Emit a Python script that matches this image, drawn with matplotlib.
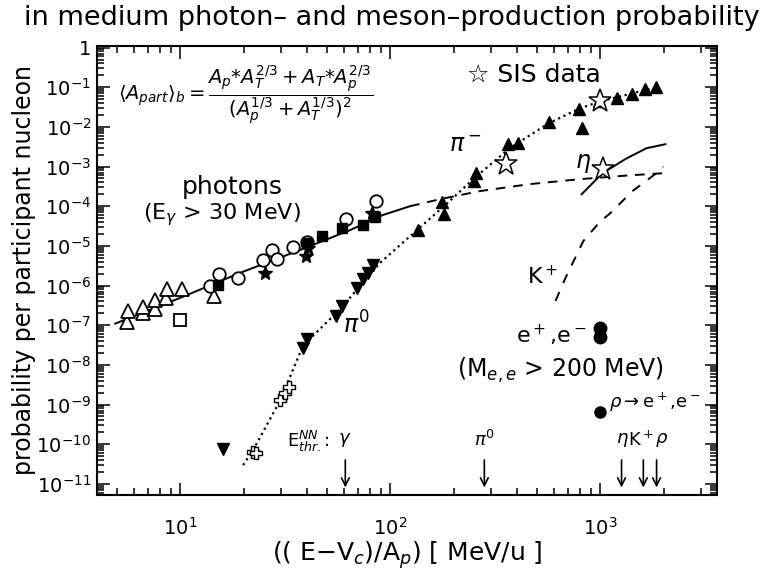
import matplotlib
matplotlib.use("Agg")
import matplotlib.pyplot as plt
from matplotlib.ticker import FixedLocator, FixedFormatter, LogLocator, NullFormatter

# photon data (E_gamma > 30 MeV)
gam_tri_x = [5.6, 5.66, 6.67, 6.67, 7.6, 7.6, 8.58, 8.67, 10.2, 14.5]
gam_tri_y = [1.23e-7, 2.33e-7, 2.07e-7, 2.93e-7, 2.61e-7, 4.4e-7, 4.9e-7, 8.3e-7, 8.3e-7, 5.5e-7]
gam_circ_x = [13.9, 15.3, 18.9, 24.8, 27.3, 28.9, 34.4, 40.1, 61.5, 85.3]
gam_circ_y = [9.9e-7, 2.0e-6, 1.58e-6, 4.5e-6, 7.9e-6, 4.7e-6, 9.4e-6, 1.26e-5, 4.8e-5, 1.35e-4]
gam_sq_x = [15.1, 40.1, 47.3, 58.9, 74.0, 84.3]
gam_sq_y = [1.05e-6, 1.19e-5, 1.78e-5, 2.8e-5, 3.4e-5, 5.4e-5]
gam_osq_x = [10.0]
gam_osq_y = [1.38e-7]
gam_star_x = [25.3, 39.7, 40.6, 81.6]
gam_star_y = [2.1e-6, 5.6e-6, 8.9e-6, 6.8e-5]

# photon model curve (solid, then dashed)
gam_fit_x = [4.9, 10, 19.3, 37.2, 64.3, 92, 124]
gam_fit_y = [1.1e-7, 4.9e-7, 2.1e-6, 7.9e-6, 2.5e-5, 6.0e-5, 1.0e-4]
gam_ext_x = [124, 172, 266, 460, 794, 1374, 1990]
gam_ext_y = [1.0e-4, 1.5e-4, 2.4e-4, 3.6e-4, 4.8e-4, 6.0e-4, 6.8e-4]

# pions
pim_x = [136, 180, 177, 249, 255, 361, 403, 566, 787, 813, 989, 1205, 1420, 1636, 1846]
pim_y = [2.5e-5, 6.4e-5, 1.28e-4, 4.3e-4, 6.8e-4, 3.66e-3, 3.9e-3, 1.3e-2, 2.77e-2, 9.2e-3,
         4.4e-2, 5.5e-2, 6.6e-2, 8.8e-2, 9.9e-2]
pi0_x = [16.0, 38.4, 40.1, 55.1, 58.9, 69.3, 74.0, 78.1, 82.6]
pi0_y = [7.5e-11, 2.7e-8, 4.4e-8, 1.74e-7, 3.1e-7, 8.8e-7, 1.48e-6, 2.1e-6, 3.3e-6]
pi0c_x = [22.2, 22.9, 29.9, 31.5, 33.0]
pi0c_y = [6.3e-11, 6.1e-11, 1.28e-9, 2.0e-9, 2.7e-9]
pion_fit_x = [19.9, 22.2, 29.9, 38.4, 57.5, 89.1, 136, 180, 251, 370, 566, 794, 1000, 1846]
pion_fit_y = [2.97e-11, 7.1e-11, 1.28e-9, 3.1e-8, 2.5e-7, 3.7e-6, 2.7e-5, 1.0e-4, 5.1e-4,
              2.9e-3, 1.23e-2, 2.9e-2, 4.4e-2, 1.0e-1]

# SIS data
sis_x = [354, 1000, 1023]
sis_y = [1.15e-3, 4.6e-2, 8.6e-4]

# eta and K+
eta_x = [813, 1023, 1330, 1656, 2037]
eta_y = [2.0e-4, 6.8e-4, 1.6e-3, 2.9e-3, 3.66e-3]
kp_x = [611, 682, 830, 1000, 1104, 1420, 1846, 1990]
kp_y = [4.1e-7, 1.57e-6, 1.34e-5, 4.2e-5, 6.4e-5, 2.4e-4, 6.8e-4, 1.0e-3]

# dileptons
ee_x = [1000, 1000]
ee_y = [8.7e-8, 4.9e-8]
rho_x = [995]
rho_y = [6.3e-10]

# NN thresholds
thr_x = [61, 280, 1260, 1600, 1850]

ytick_vals = [10.0 ** (-k) for k in range(0, 12)]
ytick_labels = ['1'] + [r'$10^{-%d}$' % k for k in range(1, 12)]

fig = plt.figure(figsize=(7.68, 5.74), dpi=100)
ax = fig.add_axes([0.126, 0.138, 0.808, 0.782])
ax.set_xscale('log')
ax.set_yscale('log')
ax.set_xlim(4, 3600)
ax.set_ylim(5.3e-12, 1.1)

# curves
ax.plot(gam_fit_x, gam_fit_y, 'k-', lw=1.4)
ax.plot(gam_ext_x, gam_ext_y, 'k--', lw=1.4, dashes=(5, 4))
ax.plot(pion_fit_x, pion_fit_y, 'k:', lw=1.6)
ax.plot(eta_x, eta_y, 'k-', lw=1.4)
ax.plot(kp_x, kp_y, 'k--', lw=1.4, dashes=(5, 5))

# markers
ax.plot(gam_tri_x, gam_tri_y, '^', mfc='white', mec='k', mew=1.3, ms=10, ls='none')
ax.plot(gam_circ_x, gam_circ_y, 'o', mfc='white', mec='k', mew=1.3, ms=9, ls='none')
ax.plot(gam_sq_x, gam_sq_y, 's', color='k', ms=7.5, ls='none')
ax.plot(gam_osq_x, gam_osq_y, 's', mfc='white', mec='k', mew=1.3, ms=8, ls='none')
ax.plot(gam_star_x, gam_star_y, '*', color='k', ms=10, ls='none')
ax.plot(pim_x, pim_y, '^', color='k', ms=8, ls='none')
ax.plot(pi0_x, pi0_y, 'v', color='k', ms=8, ls='none')
ax.plot(pi0c_x, pi0c_y, 'P', mfc='white', mec='k', mew=1.0, ms=8, ls='none')
ax.plot(sis_x, sis_y, '*', mfc='white', mec='k', mew=1.1, ms=17, ls='none')
ax.plot(ee_x, ee_y, 'o', color='k', ms=9, ls='none')
ax.plot(rho_x, rho_y, 'o', color='k', ms=8, ls='none')

# threshold arrows
for x in thr_x:
    ax.annotate('', xy=(x, 6.9e-12), xytext=(x, 4.7e-11),
                arrowprops=dict(arrowstyle='->', lw=1.2, color='k', mutation_scale=14))

ax.text(0.034, 0.891,
        r'$\langle A_{part}\rangle_b = \dfrac{A_p{*}A_T^{2/3}+A_T{*}A_p^{2/3}}{(A_p^{1/3}+A_T^{1/3})^2}$',
        transform=ax.transAxes, fontsize=14, va='center', ha='left')
ax.text(0.597, 0.935, '\u2606 SIS data', transform=ax.transAxes, fontsize=18, va='center')
ax.text(0.219, 0.686, 'photons', transform=ax.transAxes, fontsize=18, ha='center', va='center')
ax.text(0.202, 0.624, r'(E$_\gamma$ > 30 MeV)', transform=ax.transAxes, fontsize=16,
        ha='center', va='center')
ax.text(0.594, 0.78, r'$\pi^-$', transform=ax.transAxes, fontsize=17, ha='center', va='center')
ax.text(0.419, 0.379, r'$\pi^0$', transform=ax.transAxes, fontsize=17, ha='center', va='center')
ax.text(0.784, 0.739, r'$\eta$', transform=ax.transAxes, fontsize=17, ha='center', va='center')
ax.text(0.718, 0.486, r'K$^+$', transform=ax.transAxes, fontsize=16, ha='center', va='center')
ax.text(0.732, 0.356, r'e$^+$,e$^-$', transform=ax.transAxes, fontsize=16, ha='center', va='center')
ax.text(0.748, 0.278, r'(M$_{e,e}$ > 200 MeV)', transform=ax.transAxes, fontsize=17,
        ha='center', va='center')
ax.text(0.826, 0.205, r'$\rho\rightarrow$e$^+$,e$^-$', transform=ax.transAxes, fontsize=13,
        ha='left', va='center')
ax.text(0.375, 0.118, r'E$_{thr.}^{NN}$:', transform=ax.transAxes, fontsize=13,
        ha='right', va='center')
thr_labels = [r'$\gamma$', r'$\pi^0$', r'$\eta$', r'K$^+$', r'$\rho$']
thr_pos = [0.400, 0.624, 0.847, 0.877, 0.910]
for lab, fx in zip(thr_labels, thr_pos):
    ax.text(fx, 0.122, lab, transform=ax.transAxes, fontsize=13, ha='center', va='center')

# axes styling
ax.yaxis.set_major_locator(FixedLocator(ytick_vals))
ax.yaxis.set_major_formatter(FixedFormatter(ytick_labels))
ax.yaxis.set_minor_locator(LogLocator(base=10, subs=[2, 3, 4, 5, 6, 7, 8, 9], numticks=20))
ax.yaxis.set_minor_formatter(NullFormatter())
ax.xaxis.set_major_locator(LogLocator(base=10, numticks=10))
ax.xaxis.set_minor_locator(LogLocator(base=10, subs=[2, 3, 4, 5, 6, 7, 8, 9], numticks=20))
ax.xaxis.set_minor_formatter(NullFormatter())
ax.tick_params(which='both', direction='in', top=True, right=True, width=1.1)
ax.tick_params(which='major', length=9)
ax.tick_params(which='minor', length=5)
ax.tick_params(axis='x', which='major', pad=16, labelsize=14)
ax.tick_params(axis='y', which='major', pad=4, labelsize=14)
for sp in ax.spines.values():
    sp.set_linewidth(1.5)

ax.set_xlabel(r'(( E$-$V$_c$)/A$_p$) [ MeV/u ]', fontsize=18, labelpad=0)
ax.set_ylabel('probability per participant nucleon', fontsize=17, labelpad=0)
fig.text(0.51, 0.968, 'in medium photon\u2013 and meson\u2013production probability',
         fontsize=19.5, ha='center', va='center')

fig.savefig('out.png', dpi=100)
